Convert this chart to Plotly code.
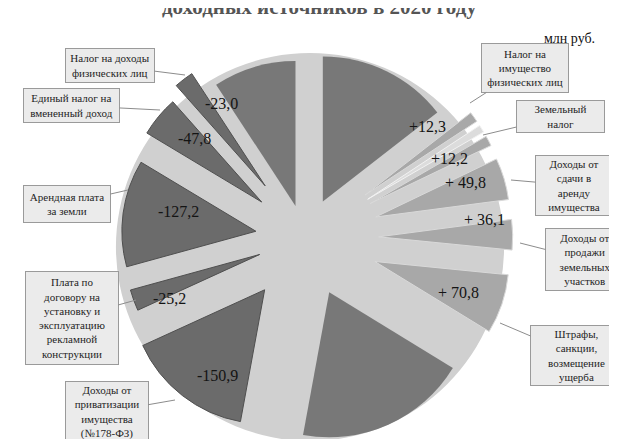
import plotly.graph_objects as go

W, H = 617, 439

# ---- data ----
categories = [
    "Налог на имущество физических лиц",
    "Земельный налог",
    "Доходы от сдачи в аренду имущества",
    "Доходы от продажи земельных участков",
    "Штрафы, санкции, возмещение ущерба",
    "Доходы от приватизации имущества (№178-ФЗ)",
    "Плата по договору на установку и эксплуатацию рекламной конструкции",
    "Арендная плата за земли",
    "Единый налог на вмененный доход",
    "Налог на доходы физических лиц",
]
changes = [12.3, 12.2, 49.8, 36.1, 70.8, -150.9, -25.2, -127.2, -47.8, -23.0]
value_labels = ["+12,3", "+12,2", "+ 49,8", "+ 36,1", "+ 70,8",
                "-150,9", "-25,2", "-127,2", "-47,8", "-23,0"]
box_texts = [
    "Налог на<br>имущество<br>физических лиц",
    "Земельный<br>налог",
    "Доходы от<br>сдачи в<br>аренду<br>имущества",
    "Доходы от<br>продажи<br>земельных<br>участков",
    "Штрафы,<br>санкции,<br>возмещение<br>ущерба",
    "Доходы от<br>приватизации<br>имущества<br>(№178-ФЗ)",
    "Плата по<br>договору на<br>установку и<br>эксплуатацию<br>рекламной<br>конструкции",
    "Арендная плата<br>за земли",
    "Единый налог на<br>вмененный доход",
    "Налог на доходы<br>физических лиц",
]
# unlabeled sectors of the pie (same units)
other_names = ["прочие 1", "прочие 2", "прочие 3", "прочие 4"]
other_values = [143, 9, 189, 91]

# ---- slice order, clockwise from 12 o'clock ----
order = [("o", 0), ("c", 0), ("o", 1), ("c", 1), ("c", 2), ("c", 3), ("c", 4),
         ("o", 2), ("c", 5), ("c", 6), ("c", 7), ("c", 8), ("c", 9), ("o", 3)]
# explode amount of each slice (style), same order
pull_style = [0.28, 0.55, 0.55, 0.55, 0.55, 0.55, 0.55,
              0.41, 0.49, 0.36, 0.37, 0.42, 0.49, 0.23]

labels, sizes = [], []
front_col, front_line, front_w, front_pull = [], [], [], []
back_col, back_w, back_pull = [], [], []
NONE = "rgba(0,0,0,0)"
for k, (kind, i) in enumerate(order):
    big = kind == "o" and other_values[i] > 20
    if kind == "c":
        v = changes[i]
        labels.append(categories[i]); sizes.append(abs(v))
        front_col.append("#a8a8a8" if v > 0 else "#6b6b6b")
        front_line.append("#d9d9d9" if v > 0 else "#4f4f4f")
    else:
        labels.append(other_names[i]); sizes.append(other_values[i])
        front_col.append(NONE if big else "#dcdcdc")
        front_line.append(NONE if big else "#f2f2f2")
    front_w.append(0 if big else 1)
    front_pull.append(0 if big else pull_style[k])
    back_col.append("#787878" if big else NONE)
    back_w.append(0)
    back_pull.append(pull_style[k] if big else 0)

cx, cy = 297, 230      # pie centre, px from top-left
r_front, r_back = 134, 145
bgx, bgy, R_bg = 302, 239, 194

def domain(x, y, half):
    return dict(x=[max(0, (x - half) / W), min(1, (x + half) / W)],
                y=[max(0, (H - y - half) / H), min(1, (H - y + half) / H)])

fig = go.Figure()
fig.add_trace(go.Pie(
    values=[1], labels=["фон"], marker=dict(colors=["#d0d0d0"], line=dict(width=0)),
    textinfo="none", hoverinfo="skip", showlegend=False, sort=False,
    domain=domain(bgx, bgy, R_bg),
))
fig.add_trace(go.Pie(
    values=sizes, labels=labels, sort=False, direction="clockwise", rotation=0,
    pull=back_pull, textinfo="none", hoverinfo="skip", showlegend=False,
    marker=dict(colors=back_col, line=dict(color=NONE, width=back_w)),
    domain=domain(cx, cy, r_back * (1 + max(back_pull))),
))
fig.add_trace(go.Pie(
    values=sizes, labels=labels, sort=False, direction="clockwise", rotation=0,
    pull=front_pull, textinfo="none", hoverinfo="label+value", showlegend=False,
    marker=dict(colors=front_col, line=dict(color=front_line, width=front_w)),
    domain=domain(cx, cy, r_front * (1 + max(front_pull))),
))

def px(x): return x / W
def py(y): return 1 - y / H

# label boxes: (box centre x, y, width, height, arrow tip x, y)
box_geo = [
    (516.5, 60, 88, 50, 462, 95),
    (552.5, 108.5, 89, 33, 475, 127),
    (566, 177.5, 78, 61, 503, 172),
    (577, 251.5, 80, 63, 512, 235),
    (568.5, 347.5, 93, 61, 492, 315),
    (98.5, 404, 84, 62, 167, 392),
    (63.5, 310, 94, 94, 128, 292),
    (59, 196, 88, 38, 120, 182),
    (63.5, 97.5, 97, 35, 152, 102),
    (102, 57.5, 90, 35, 177, 67),
]
val_pos = [(440, 108), (462, 140), (480, 175), (499, 212), (473, 295),
           (187, 378), (143, 290), (148, 203), (168, 120), (195, 85)]

SERIF = "Liberation Serif, Times New Roman, serif"
ann = []
for t, (bx, by, bw, bh, tx, ty) in zip(box_texts, box_geo):
    ann.append(dict(
        x=px(tx), y=py(ty), xref="paper", yref="paper", text=t,
        showarrow=True, arrowhead=0, arrowwidth=1, arrowcolor="#8c8c8c",
        ax=bx - tx, ay=by - ty, width=bw - 4, height=bh - 4,
        bgcolor="#ebebeb", bordercolor="#9a9a9a", borderwidth=1, borderpad=1,
        font=dict(family=SERIF, size=11, color="#1e1e1e"),
        align="center", valign="middle",
    ))
for t, (vx, vy) in zip(value_labels, val_pos):
    ann.append(dict(x=px(vx), y=py(vy), xref="paper", yref="paper", text=t,
                    showarrow=False,
                    font=dict(family=SERIF, size=16, color="#141414")))
ann.append(dict(x=px(311), y=py(13), xref="paper", yref="paper", yanchor="bottom",
                text="<b>доходных источников в 2020 году</b>", showarrow=False,
                font=dict(family=SERIF, size=21, color="#555555")))
ann.append(dict(x=px(589), y=py(21), xref="paper", yref="paper",
                text="млн руб.", showarrow=False,
                font=dict(family=SERIF, size=14, color="#111111")))

fig.update_layout(width=W, height=H, margin=dict(l=0, r=0, t=0, b=0),
                  paper_bgcolor="white", plot_bgcolor="white",
                  annotations=ann, showlegend=False)
fig.write_html("out.html")
